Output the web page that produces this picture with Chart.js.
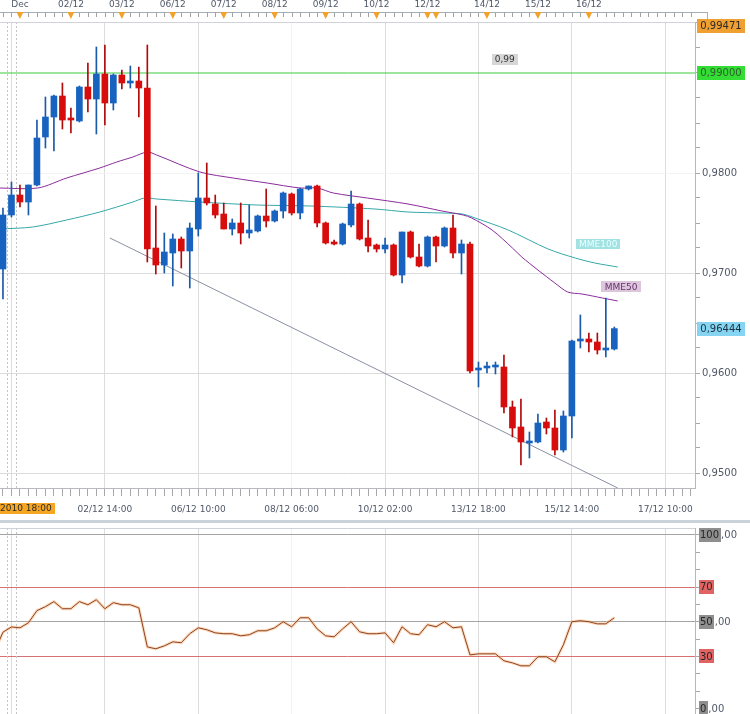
<!DOCTYPE html>
<html>
<head>
<meta charset="utf-8">
<script src="https://cdn.jsdelivr.net/npm/chart.js@4.4.0/dist/chart.umd.min.js"></script>
<style>
  body { margin: 0; background: #fff; width: 750px; height: 714px; overflow: hidden; position: relative; }
  #main { position: absolute; left: 0; top: 0; }
  #sep { position: absolute; left: 0; top: 520px; width: 750px; height: 3px; background: #c9d1d9; }
  #rsi { position: absolute; left: 0; top: 523px; }
</style>
</head>
<body>
<canvas id="main" width="750" height="516"></canvas>
<div id="sep"></div>
<canvas id="rsi" width="750" height="191"></canvas>
<script>
// 4h candles, index 0 = first candle on the left
let opens = [0.9704,0.9758,0.9778,0.9771,0.9788,0.9836,0.9856,0.9877,0.9854,0.9852,
  0.9886,0.9874,0.9899,0.9870,0.9898,0.9890,0.9892,0.9885,0.9725,0.9708,
  0.9720,0.9734,0.9722,0.9744,0.9775,0.9769,0.9759,0.9744,0.9750,0.9740,
  0.9742,0.9757,0.9752,0.9762,0.9779,0.9760,0.9784,0.9787,0.9750,0.9731,
  0.9729,0.9748,0.9769,0.9735,0.9728,0.9724,0.9728,0.9698,0.9741,0.9716,
  0.9707,0.9736,0.9727,0.9745,0.9720,0.9729,0.9603,0.9605,0.9606,0.9606,
  0.9566,0.9546,0.9530,0.9531,0.9551,0.9545,0.9523,0.9557,0.9632,0.9634,
  0.9631,0.9623,0.9624]
let closes = [0.9758,0.9778,0.9771,0.9788,0.9835,0.9856,0.9877,0.9853,0.9853,0.9886,
  0.9874,0.9899,0.9870,0.9898,0.9890,0.9892,0.9885,0.9724,0.9708,0.9721,
  0.9734,0.9722,0.9745,0.9775,0.9770,0.9758,0.9744,0.9750,0.9740,0.9743,
  0.9757,0.9752,0.9762,0.9780,0.9760,0.9784,0.9787,0.9750,0.9730,0.9729,
  0.9749,0.9769,0.9734,0.9727,0.9724,0.9728,0.9698,0.9741,0.9716,0.9707,
  0.9736,0.9727,0.9745,0.9720,0.9729,0.9602,0.9605,0.9606,0.9606,0.9566,
  0.9545,0.9531,0.9532,0.9550,0.9545,0.9523,0.9557,0.9632,0.9634,0.9631,
  0.9623,0.9624,0.96444]
let highs = [0.9765,0.9791,0.9788,0.9788,0.9853,0.9876,0.9878,0.9890,0.9865,0.9887,
  0.9910,0.9926,0.9928,0.9899,0.9903,0.9907,0.9906,0.9928,0.9767,0.9740,
  0.9739,0.9736,0.9750,0.9800,0.9810,0.9778,0.9770,0.9754,0.9770,0.9768,
  0.9758,0.9784,0.9763,0.9781,0.9780,0.9785,0.9787,0.9788,0.9751,0.9733,
  0.9750,0.9782,0.9770,0.9753,0.9729,0.9735,0.9729,0.9741,0.9742,0.9729,
  0.9737,0.9737,0.9746,0.9758,0.9733,0.9731,0.9611,0.9611,0.9611,0.9618,
  0.9572,0.9574,0.9541,0.9559,0.9555,0.9563,0.9562,0.9633,0.9658,0.9640,
  0.9640,0.9675,0.9646]
let lows = [0.9674,0.9756,0.9766,0.9758,0.9787,0.9825,0.9822,0.9844,0.9840,0.9851,
  0.9861,0.9839,0.9848,0.9863,0.9884,0.9885,0.9856,0.9711,0.9699,0.9700,
  0.9687,0.9705,0.9685,0.9737,0.9768,0.9755,0.9744,0.9738,0.9729,0.9735,
  0.9741,0.9746,0.9751,0.9755,0.9758,0.9754,0.9783,0.9746,0.9729,0.9728,
  0.9728,0.9746,0.9733,0.9721,0.9721,0.9720,0.9697,0.9690,0.9715,0.9706,
  0.9706,0.9711,0.9726,0.9715,0.9699,0.9600,0.9586,0.9600,0.9599,0.9560,
  0.9536,0.9508,0.9515,0.9530,0.9539,0.9518,0.9521,0.9535,0.9625,0.9621,
  0.9619,0.9616,0.9623]

// moving averages (candle index, price)
let mme50Index = [-0.4,4.1,7.5,11.4,13.4,15.3,17,18.1,23.2,27.1,31.1,35,37,38.9,42.9,47.7,51.7,54.2,55.2,57.6,60,61.1,63,65,66.5,68.2,70.6,72.4]
let mme50Values = [0.9785,0.9785,0.9795,0.9805,0.9811,0.9816,0.9821,0.9818,0.9801,0.9795,0.9790,0.9785,0.9785,0.9780,0.9775,0.9769,0.9762,0.9758,0.9755,0.9743,0.9725,0.9716,0.9703,0.9690,0.9681,0.9679,0.9675,0.9672]
let mme100Index = [-0.4,3.5,7.5,11.4,15.3,16.7,18.1,23.2,29.9,36.2,43.8,47.7,51.7,54.1,55.6,59.5,64.2,67.4,69.7,72.4]
let mme100Values = [0.9744,0.9746,0.9753,0.9761,0.9771,0.9775,0.9774,0.9771,0.9768,0.9767,0.9764,0.9761,0.9760,0.9759,0.9755,0.9743,0.9724,0.9715,0.9710,0.9706]

// support line and level
let trendIndex = [12.6, 72.4]
let trendValues = [0.9735, 0.9485]
let levelPrice = 0.99
let lastPrice = 0.96444
let topPrice = 0.99471

// RSI, first value sits one candle before the first candle
let rsiFirstIndex = -1
let rsiValues = [32.7,44,47,46.5,49.4,56.4,58.7,61.6,57.5,57.5,
  61.6,59.8,62.7,57.5,61,59.8,59.8,58,35.5,34.4,
  36.1,38.4,37.9,43.1,46.5,45.4,43.6,43.1,43.1,41.9,
  42.5,44.8,44.8,46.5,50,47.1,52.3,52.3,45.9,41.9,
  41.3,45.9,50,44.2,43.1,43.1,43.6,37.9,47.1,43.1,
  42.5,48.3,47.1,50,46.5,47.1,30.9,31.5,31.5,31.5,
  27.5,26.3,24.6,24.6,29.8,29.8,26.9,36.7,50,50.6,
  50,48.8,48.8,52.3]

// axis labels
let topDayLabels = ['Dec','02/12','03/12','06/12','07/12','08/12','09/12','10/12','12/12','14/12','15/12','16/12']
let topDayIndex = [2,8,14,20,26,32,38,44,50,57,63,69]
let topMarkerIndex = [2,8,14,20,26,32,38,44,50,51,57,63,69]
let bottomLabels = ['02/12 14:00','06/12 10:00','08/12 06:00','10/12 02:00','13/12 18:00','15/12 14:00','17/12 10:00']
let bottomIndex = [12,23,34,45,56,67,78]
let cursorIndex = 1
let cursorLabel = '30/11/2010 18:00'
let fadedIndex = 34
let yLabelValues = [0.95, 0.96, 0.97, 0.98]
let rsiLevels = [100, 70, 50, 30, 0]

Chart.defaults.font.family = '"DejaVu Sans", Verdana, sans-serif'
Chart.defaults.font.size = 9
Chart.defaults.color = '#505868'

let xMin = -0.35
let xMax = 81.5
let lastSlot = 81
let textColor = '#505868'

let upBody = '#1763bf', downBody = '#d70c0c'
let upWick = '#1a5aa8', downWick = '#b00a0a'

let idx = opens.map(function(o, i){ return i })
let isUp = idx.map(function(i){ return closes[i] >= opens[i] })
let rsiPoints = rsiValues.map(function(v, k){ return {x: k + rsiFirstIndex, y: v} })

function vGrid(v){
    if (v === fadedIndex) return '#f1f1f1'
    if (v === cursorIndex || bottomIndex.includes(v)) return '#dcdcdc'
    return 'rgba(0,0,0,0)'
}

function slotTicks(scale){
    scale.ticks = []
    for (let i = 0; i <= lastSlot; i++) scale.ticks.push({value: i})
}

// keep the plot flush with the canvas edges
function fixX(h){
    return function(s){
        s.height = h
        s.paddingLeft = 0
        s.paddingRight = 0
    }
}
function fixY(s){
    s.width = 55
    s.paddingTop = 0
    s.paddingBottom = 0
}

function drawCursor(ctx, x, top, bottom){
    let c = x.getPixelForValue(cursorIndex)
    ctx.save()
    ctx.strokeStyle = '#c4c4c4'
    ctx.lineWidth = 1
    ctx.setLineDash([2, 2])
    ;[c - 4.5, c + 4.5].forEach(function(px){
        ctx.beginPath()
        ctx.moveTo(Math.round(px) + 0.5, top)
        ctx.lineTo(Math.round(px) + 0.5, bottom)
        ctx.stroke()
    })
    ctx.restore()
}

function tag(ctx, text, cx, cy, w, h, bg, fg){
    ctx.fillStyle = bg
    ctx.fillRect(Math.round(cx - w / 2), Math.round(cy - h / 2), w, h)
    ctx.fillStyle = fg
    ctx.textAlign = 'center'
    ctx.textBaseline = 'middle'
    ctx.fillText(text, cx, cy + 0.5)
}

let mainDecor = {
    id: 'mainDecor',
    beforeDatasetsDraw(chart){
        let a = chart.chartArea
        drawCursor(chart.ctx, chart.scales.x, a.top, a.bottom)
    },
    afterDraw(chart){
        let ctx = chart.ctx
        let x = chart.scales.x
        let y = chart.scales.y
        let a = chart.chartArea
        ctx.save()

        // top date strip
        ctx.strokeStyle = '#a8aeb6'
        ctx.lineWidth = 1
        ctx.beginPath()
        ctx.moveTo(0, 12.5)
        ctx.lineTo(707, 12.5)
        ctx.moveTo(707.5, 12)
        ctx.lineTo(707.5, 22)
        ctx.stroke()
        ctx.strokeStyle = '#a0a0a0'
        ctx.beginPath()
        for (let i = 0; i <= lastSlot; i++){
            let px = Math.round(x.getPixelForValue(i)) + 0.5
            ctx.moveTo(px, 13)
            ctx.lineTo(px, 17)
        }
        ctx.stroke()
        ctx.fillStyle = '#f2a22c'
        topMarkerIndex.forEach(function(v){
            let px = x.getPixelForValue(v)
            ctx.beginPath()
            ctx.moveTo(px - 3.5, 12)
            ctx.lineTo(px + 3.5, 12)
            ctx.lineTo(px, 19)
            ctx.closePath()
            ctx.fill()
        })
        ctx.font = '9px "DejaVu Sans"'
        ctx.fillStyle = textColor
        ctx.textAlign = 'center'
        ctx.textBaseline = 'middle'
        topDayLabels.forEach(function(t, k){
            ctx.fillText(t, x.getPixelForValue(topDayIndex[k]), 5)
        })
        ctx.strokeStyle = '#d0d4d8'
        ctx.beginPath()
        ctx.moveTo(0, a.top + 0.5)
        ctx.lineTo(a.right, a.top + 0.5)
        ctx.stroke()

        // first date label, highlighted
        let cw = ctx.measureText(cursorLabel).width + 6
        let cx = x.getPixelForValue(cursorIndex)
        tag(ctx, cursorLabel, cx, 508, Math.round(cw), 11, '#f5a623', '#2a2a2a')

        // price tags on the right
        ctx.font = '10px "DejaVu Sans"'
        tag(ctx, topPrice.toFixed(5).replace('.', ','), 721, y.getPixelForValue(topPrice), 48, 14, '#f0a030', '#2a2a2a')
        tag(ctx, levelPrice.toFixed(5).replace('.', ','), 721, y.getPixelForValue(levelPrice), 48, 14, '#33dd33', '#2e5e2e')
        tag(ctx, lastPrice.toFixed(5).replace('.', ','), 721, y.getPixelForValue(lastPrice), 48, 14, '#84d4f2', '#1e3040')

        // labels inside the plot
        ctx.font = '9px "DejaVu Sans"'
        tag(ctx, '0,99', x.getPixelForValue(59.1), y.getPixelForValue(0.9914), 26, 11, '#d6d6d6', '#333')
        tag(ctx, 'MME100', x.getPixelForValue(70.1), y.getPixelForValue(0.9729), 44, 10, '#a2e2e2', '#e8ffff')
        tag(ctx, 'MME50', x.getPixelForValue(72.8), y.getPixelForValue(0.9686), 40, 11, '#dcc6dc', '#6a3070')
        ctx.restore()
    }
}

let mainChart = new Chart(document.querySelector('#main'), {
    type: 'bar',
    data: {
        datasets: [
            {
                type: 'line',
                data: [{x: xMin, y: levelPrice}, {x: xMax, y: levelPrice}],
                borderColor: '#3ccc3c',
                borderWidth: 1,
                pointRadius: 0,
                order: 5
            },
            {
                type: 'line',
                data: trendIndex.map(function(v, k){ return {x: v, y: trendValues[k]} }),
                borderColor: '#8a90a0',
                borderWidth: 1,
                pointRadius: 0,
                order: 4
            },
            {
                type: 'line',
                data: mme100Index.map(function(v, k){ return {x: v, y: mme100Values[k]} }),
                borderColor: '#35a8a8',
                borderWidth: 1,
                pointRadius: 0,
                tension: 0.3,
                order: 3
            },
            {
                type: 'line',
                data: mme50Index.map(function(v, k){ return {x: v, y: mme50Values[k]} }),
                borderColor: '#8a2c9c',
                borderWidth: 1,
                pointRadius: 0,
                tension: 0.3,
                order: 2
            },
            {
                data: idx.map(function(i){ return {x: i, y: [lows[i], highs[i]]} }),
                backgroundColor: isUp.map(function(u){ return u ? upWick : downWick }),
                barThickness: 1,
                grouped: false,
                order: 1
            },
            {
                data: idx.map(function(i){ return {x: i, y: [opens[i], closes[i]]} }),
                backgroundColor: isUp.map(function(u){ return u ? upBody : downBody }),
                barThickness: 6,
                minBarLength: 2,
                grouped: false,
                order: 0
            }
        ]
    },
    options: {
        responsive: false,
        animation: false,
        layout: {padding: {top: 22, left: 0, right: 0, bottom: 0}},
        plugins: {legend: {display: false}, tooltip: {enabled: false}},
        scales: {
            x: {
                type: 'linear',
                position: 'bottom',
                min: xMin,
                max: xMax,
                offset: false,
                afterFit: fixX(28),
                afterBuildTicks: slotTicks,
                ticks: {
                    autoSkip: false,
                    maxRotation: 0,
                    padding: 8,
                    color: textColor,
                    callback: function(v){
                        let k = bottomIndex.indexOf(v)
                        return k >= 0 ? bottomLabels[k] : ''
                    }
                },
                grid: {
                    offset: false,
                    color: function(c){ return c.tick ? vGrid(c.tick.value) : 'rgba(0,0,0,0)' },
                    tickColor: '#a8a8a8',
                    tickLength: 8
                },
                border: {display: true, color: '#b8bcc0'}
            },
            y: {
                position: 'right',
                min: 0.9485,
                max: 0.9951,
                afterFit: fixY,
                afterBuildTicks: function(s){
                    s.ticks = []
                    for (let k = 0; k <= 18; k++) s.ticks.push({value: Math.round((0.95 + k * 0.0025) * 10000) / 10000})
                },
                ticks: {
                    autoSkip: false,
                    padding: 2,
                    color: textColor,
                    font: {size: 10},
                    callback: function(v){
                        return yLabelValues.includes(v) ? v.toFixed(4).replace('.', ',') : ''
                    }
                },
                grid: {
                    color: function(c){
                        if (!c.tick) return 'rgba(0,0,0,0)'
                        let v = c.tick.value
                        if (v === 0.98) return '#f3f3f3'
                        if (yLabelValues.includes(v)) return '#dcdcdc'
                        return 'rgba(0,0,0,0)'
                    },
                    tickColor: '#a8a8a8',
                    tickLength: 5
                },
                border: {display: true, color: '#b4b8bc'}
            }
        }
    },
    plugins: [mainDecor]
})

let rsiDecor = {
    id: 'rsiDecor',
    beforeDatasetsDraw(chart){
        let a = chart.chartArea
        drawCursor(chart.ctx, chart.scales.x, a.top, a.bottom)
    },
    afterDraw(chart){
        let ctx = chart.ctx
        let y = chart.scales.y
        let a = chart.chartArea
        ctx.save()
        ctx.strokeStyle = '#ccd2d8'
        ctx.beginPath()
        ctx.moveTo(0, a.top + 0.5)
        ctx.lineTo(a.right, a.top + 0.5)
        ctx.stroke()
        ctx.font = '10px "DejaVu Sans"'
        ctx.textBaseline = 'middle'
        ctx.textAlign = 'left'
        rsiLevels.forEach(function(v){
            let py = y.getPixelForValue(v)
            let head = String(v)
            let hw = ctx.measureText(head).width
            let red = v === 70 || v === 30
            ctx.fillStyle = red ? '#e06262' : '#8e8e8e'
            ctx.fillRect(699, Math.round(py - 7), Math.ceil(hw) + 2, 14)
            ctx.fillStyle = '#262626'
            ctx.fillText(head, 700, py + 0.5)
            if (!red){
                ctx.fillStyle = textColor
                ctx.fillText(',00', 701 + hw + 1, py + 0.5)
            }
        })
        ctx.restore()
    }
}

let rsiChart = new Chart(document.querySelector('#rsi'), {
    type: 'line',
    data: {
        datasets: [
            {
                // soft orange halo under the RSI line
                data: rsiPoints,
                borderColor: 'rgba(246,170,110,0.45)',
                borderWidth: 3,
                pointRadius: 0,
                tension: 0,
                order: 1
            },
            {
                data: rsiPoints,
                borderColor: '#8e4420',
                borderWidth: 1,
                pointRadius: 0,
                tension: 0,
                order: 0
            }
        ]
    },
    options: {
        responsive: false,
        animation: false,
        layout: {padding: {top: 5, left: 0, right: 0, bottom: 0}},
        plugins: {legend: {display: false}, tooltip: {enabled: false}},
        scales: {
            x: {
                type: 'linear',
                min: xMin,
                max: xMax,
                offset: false,
                afterFit: fixX(0),
                afterBuildTicks: slotTicks,
                ticks: {display: false},
                grid: {
                    offset: false,
                    drawTicks: false,
                    color: function(c){ return c.tick ? vGrid(c.tick.value) : 'rgba(0,0,0,0)' }
                },
                border: {display: false}
            },
            y: {
                position: 'right',
                min: -3.17,
                max: 104.03,
                afterFit: fixY,
                afterBuildTicks: function(s){
                    s.ticks = []
                    for (let v = 0; v <= 100; v += 10) s.ticks.push({value: v})
                },
                ticks: {autoSkip: false, callback: function(){ return '' }},
                grid: {
                    color: function(c){
                        if (!c.tick) return 'rgba(0,0,0,0)'
                        let v = c.tick.value
                        if (v === 70 || v === 30) return '#d67272'
                        if (v === 100 || v === 50) return '#a4a4a4'
                        return 'rgba(0,0,0,0)'
                    },
                    tickColor: '#a8a8a8',
                    tickLength: 5
                },
                border: {display: true, color: '#b4b8bc'}
            }
        }
    },
    plugins: [rsiDecor]
})
</script>
</body>
</html>
